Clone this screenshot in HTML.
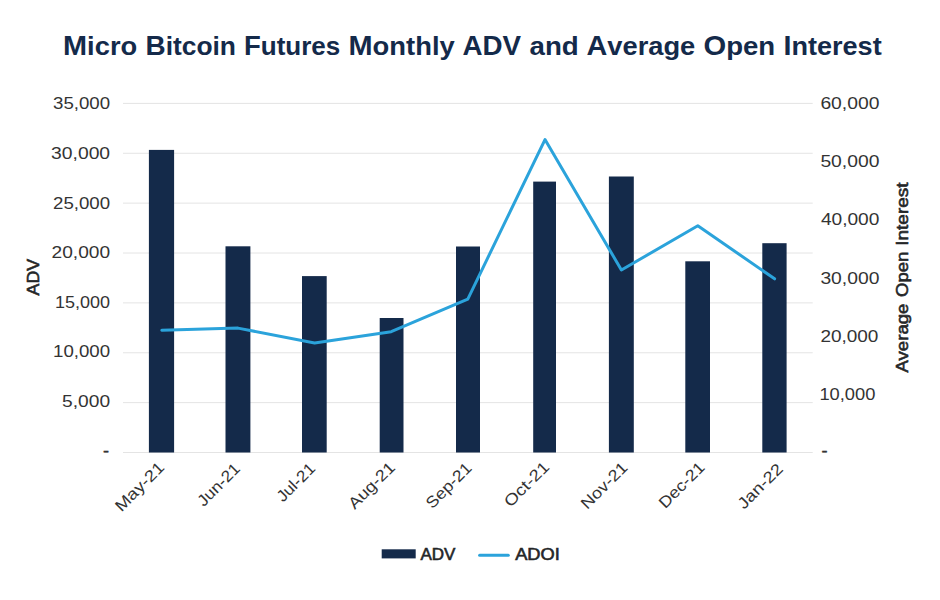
<!DOCTYPE html>
<html><head><meta charset="utf-8"><title>Micro Bitcoin Futures Monthly ADV and Average Open Interest</title>
<style>html,body{margin:0;padding:0;background:#fff;width:940px;height:600px;overflow:hidden}svg{display:block}</style>
</head><body>
<svg width="940" height="600" viewBox="0 0 940 600">
<rect width="940" height="600" fill="#fff"/>
<text x="63.10" y="54.8" font-family="'Liberation Sans', sans-serif" font-weight="bold" font-size="28" fill="#142a4a" textLength="74.10" lengthAdjust="spacingAndGlyphs">M<tspan font-size="26.5">icro</tspan></text>
<text x="145.50" y="54.8" font-family="'Liberation Sans', sans-serif" font-weight="bold" font-size="28" fill="#142a4a" textLength="90.50" lengthAdjust="spacingAndGlyphs">B<tspan font-size="26.5">itcoin</tspan></text>
<text x="244.00" y="54.8" font-family="'Liberation Sans', sans-serif" font-weight="bold" font-size="28" fill="#142a4a" textLength="96.25" lengthAdjust="spacingAndGlyphs">F<tspan font-size="26.5">utures</tspan></text>
<text x="348.50" y="54.8" font-family="'Liberation Sans', sans-serif" font-weight="bold" font-size="28" fill="#142a4a" textLength="106.25" lengthAdjust="spacingAndGlyphs">M<tspan font-size="26.5">onthly</tspan></text>
<text x="462.40" y="54.8" font-family="'Liberation Sans', sans-serif" font-weight="bold" font-size="28" fill="#142a4a" textLength="58.60" lengthAdjust="spacingAndGlyphs">ADV</text>
<text x="529.50" y="54.8" font-family="'Liberation Sans', sans-serif" font-weight="bold" font-size="28" fill="#142a4a" textLength="49.25" lengthAdjust="spacingAndGlyphs"><tspan font-size="26.5">and</tspan></text>
<text x="586.50" y="54.8" font-family="'Liberation Sans', sans-serif" font-weight="bold" font-size="28" fill="#142a4a" textLength="108.75" lengthAdjust="spacingAndGlyphs">A<tspan font-size="26.5">verage</tspan></text>
<text x="703.50" y="54.8" font-family="'Liberation Sans', sans-serif" font-weight="bold" font-size="28" fill="#142a4a" textLength="71.75" lengthAdjust="spacingAndGlyphs">O<tspan font-size="26.5">pen</tspan></text>
<text x="783.50" y="54.8" font-family="'Liberation Sans', sans-serif" font-weight="bold" font-size="28" fill="#142a4a" textLength="98.20" lengthAdjust="spacingAndGlyphs">I<tspan font-size="26.5">nterest</tspan></text>
<line x1="123" x2="812.7" y1="103.40" y2="103.40" stroke="#e4e4e4" stroke-width="1"/>
<line x1="123" x2="812.7" y1="153.27" y2="153.27" stroke="#e4e4e4" stroke-width="1"/>
<line x1="123" x2="812.7" y1="203.14" y2="203.14" stroke="#e4e4e4" stroke-width="1"/>
<line x1="123" x2="812.7" y1="253.01" y2="253.01" stroke="#e4e4e4" stroke-width="1"/>
<line x1="123" x2="812.7" y1="302.88" y2="302.88" stroke="#e4e4e4" stroke-width="1"/>
<line x1="123" x2="812.7" y1="352.75" y2="352.75" stroke="#e4e4e4" stroke-width="1"/>
<line x1="123" x2="812.7" y1="402.62" y2="402.62" stroke="#e4e4e4" stroke-width="1"/>
<line x1="123" x2="812.7" y1="452.49" y2="452.49" stroke="#e4e4e4" stroke-width="1"/>
<rect x="148.90" y="149.90" width="25.20" height="302.60" fill="#142a4a"/>
<rect x="225.50" y="246.30" width="24.90" height="206.20" fill="#142a4a"/>
<rect x="302.00" y="276.10" width="24.70" height="176.40" fill="#142a4a"/>
<rect x="379.70" y="318.00" width="23.80" height="134.50" fill="#142a4a"/>
<rect x="456.00" y="246.50" width="24.00" height="206.00" fill="#142a4a"/>
<rect x="533.20" y="181.60" width="22.80" height="270.90" fill="#142a4a"/>
<rect x="608.90" y="176.50" width="24.90" height="276.00" fill="#142a4a"/>
<rect x="685.30" y="261.30" width="24.70" height="191.20" fill="#142a4a"/>
<rect x="762.30" y="243.20" width="24.30" height="209.30" fill="#142a4a"/>
<polyline points="161.8,330.3 238.0,328.1 314.6,343.0 391.2,331.7 467.8,299.1 545.0,139.6 621.4,270.0 697.8,225.8 774.6,278.8" fill="none" stroke="#2ba3db" stroke-width="3" stroke-linejoin="round" stroke-linecap="round"/>
<text x="110.1" y="108.9" text-anchor="end" font-family="'Liberation Sans', sans-serif" font-size="16" fill="#333333" textLength="57.0" lengthAdjust="spacingAndGlyphs">35,000</text>
<text x="110.1" y="158.8" text-anchor="end" font-family="'Liberation Sans', sans-serif" font-size="16" fill="#333333" textLength="59.0" lengthAdjust="spacingAndGlyphs">30,000</text>
<text x="110.1" y="208.6" text-anchor="end" font-family="'Liberation Sans', sans-serif" font-size="16" fill="#333333" textLength="57.0" lengthAdjust="spacingAndGlyphs">25,000</text>
<text x="110.1" y="258.0" text-anchor="end" font-family="'Liberation Sans', sans-serif" font-size="16" fill="#333333" textLength="58.5" lengthAdjust="spacingAndGlyphs">20,000</text>
<text x="110.1" y="308.4" text-anchor="end" font-family="'Liberation Sans', sans-serif" font-size="16" fill="#333333" textLength="55.0" lengthAdjust="spacingAndGlyphs">15,000</text>
<text x="110.1" y="357.2" text-anchor="end" font-family="'Liberation Sans', sans-serif" font-size="16" fill="#333333" textLength="57.0" lengthAdjust="spacingAndGlyphs">10,000</text>
<text x="110.1" y="407.1" text-anchor="end" font-family="'Liberation Sans', sans-serif" font-size="16" fill="#333333" textLength="48.0" lengthAdjust="spacingAndGlyphs">5,000</text>
<text x="109.1" y="456.0" text-anchor="end" font-family="'Liberation Sans', sans-serif" font-size="16" fill="#333333" stroke="#333333" stroke-width="0.4" textLength="6.0" lengthAdjust="spacingAndGlyphs">-</text>
<text x="820.4" y="108.9" font-family="'Liberation Sans', sans-serif" font-size="16" fill="#333333" textLength="59.0" lengthAdjust="spacingAndGlyphs">60,000</text>
<text x="820.4" y="167.1" font-family="'Liberation Sans', sans-serif" font-size="16" fill="#333333" textLength="59.0" lengthAdjust="spacingAndGlyphs">50,000</text>
<text x="820.9" y="225.3" font-family="'Liberation Sans', sans-serif" font-size="16" fill="#333333" textLength="58.5" lengthAdjust="spacingAndGlyphs">40,000</text>
<text x="820.4" y="283.5" font-family="'Liberation Sans', sans-serif" font-size="16" fill="#333333" textLength="59.0" lengthAdjust="spacingAndGlyphs">30,000</text>
<text x="820.4" y="341.6" font-family="'Liberation Sans', sans-serif" font-size="16" fill="#333333" textLength="58.0" lengthAdjust="spacingAndGlyphs">20,000</text>
<text x="819.4" y="399.8" font-family="'Liberation Sans', sans-serif" font-size="16" fill="#333333" textLength="56.0" lengthAdjust="spacingAndGlyphs">10,000</text>
<text x="821.4" y="456.0" font-family="'Liberation Sans', sans-serif" font-size="16" fill="#333333" stroke="#333333" stroke-width="0.4" textLength="6.0" lengthAdjust="spacingAndGlyphs">-</text>
<text x="165.30" y="468.50" text-anchor="end" transform="rotate(-45 165.30 468.50)" font-family="'Liberation Sans', sans-serif" font-size="16" fill="#333333" textLength="62.08" lengthAdjust="spacingAndGlyphs">May-21</text>
<text x="241.16" y="469.75" text-anchor="end" transform="rotate(-45 241.16 469.75)" font-family="'Liberation Sans', sans-serif" font-size="16" fill="#333333" textLength="52.88" lengthAdjust="spacingAndGlyphs">Jun-21</text>
<text x="316.27" y="469.50" text-anchor="end" transform="rotate(-45 316.27 469.50)" font-family="'Liberation Sans', sans-serif" font-size="16" fill="#333333" textLength="47.19" lengthAdjust="spacingAndGlyphs">Jul-21</text>
<text x="396.13" y="468.50" text-anchor="end" transform="rotate(-45 396.13 468.50)" font-family="'Liberation Sans', sans-serif" font-size="16" fill="#333333" textLength="58.59" lengthAdjust="spacingAndGlyphs">Aug-21</text>
<text x="472.74" y="469.00" text-anchor="end" transform="rotate(-45 472.74 469.00)" font-family="'Liberation Sans', sans-serif" font-size="16" fill="#333333" textLength="57.15" lengthAdjust="spacingAndGlyphs">Sep-21</text>
<text x="550.35" y="468.00" text-anchor="end" transform="rotate(-45 550.35 468.00)" font-family="'Liberation Sans', sans-serif" font-size="16" fill="#333333" textLength="56.4" lengthAdjust="spacingAndGlyphs">Oct-21</text>
<text x="628.71" y="468.50" text-anchor="end" transform="rotate(-45 628.71 468.50)" font-family="'Liberation Sans', sans-serif" font-size="16" fill="#333333" textLength="58.55" lengthAdjust="spacingAndGlyphs">Nov-21</text>
<text x="705.82" y="468.50" text-anchor="end" transform="rotate(-45 705.82 468.50)" font-family="'Liberation Sans', sans-serif" font-size="16" fill="#333333" textLength="57.47" lengthAdjust="spacingAndGlyphs">Dec-21</text>
<text x="783.93" y="470.00" text-anchor="end" transform="rotate(-45 783.93 470.00)" font-family="'Liberation Sans', sans-serif" font-size="16" fill="#333333" textLength="56.43" lengthAdjust="spacingAndGlyphs">Jan-22</text>
<text x="0" y="0" transform="translate(39.4 277.1) rotate(-90)" text-anchor="middle" font-family="'Liberation Sans', sans-serif" font-size="17" fill="#242628" stroke="#242628" stroke-width="0.6" textLength="36.6" lengthAdjust="spacingAndGlyphs">ADV</text>
<text x="0" y="0" transform="translate(908.3 372.50) rotate(-90)" font-family="'Liberation Sans', sans-serif" font-size="17" fill="#242628" stroke="#242628" stroke-width="0.6" textLength="68.90" lengthAdjust="spacingAndGlyphs">Average</text>
<text x="0" y="0" transform="translate(908.3 297.00) rotate(-90)" font-family="'Liberation Sans', sans-serif" font-size="17" fill="#242628" stroke="#242628" stroke-width="0.6" textLength="45.30" lengthAdjust="spacingAndGlyphs">Open</text>
<text x="0" y="0" transform="translate(908.3 245.70) rotate(-90)" font-family="'Liberation Sans', sans-serif" font-size="17" fill="#242628" stroke="#242628" stroke-width="0.6" textLength="63.20" lengthAdjust="spacingAndGlyphs">Interest</text>
<rect x="381.7" y="549.3" width="34" height="9.1" fill="#142a4a"/>
<text x="420.4" y="559.9" font-family="'Liberation Sans', sans-serif" font-size="17" fill="#242628" stroke="#242628" stroke-width="0.6">ADV</text>
<text x="515.2" y="559.9" font-family="'Liberation Sans', sans-serif" font-size="17" fill="#242628" stroke="#242628" stroke-width="0.6" textLength="44.6" lengthAdjust="spacingAndGlyphs">ADOI</text>
<line x1="479.6" x2="508.3" y1="555.2" y2="555.2" stroke="#2ba3db" stroke-width="3" stroke-linecap="round"/>
</svg>
</body></html>
